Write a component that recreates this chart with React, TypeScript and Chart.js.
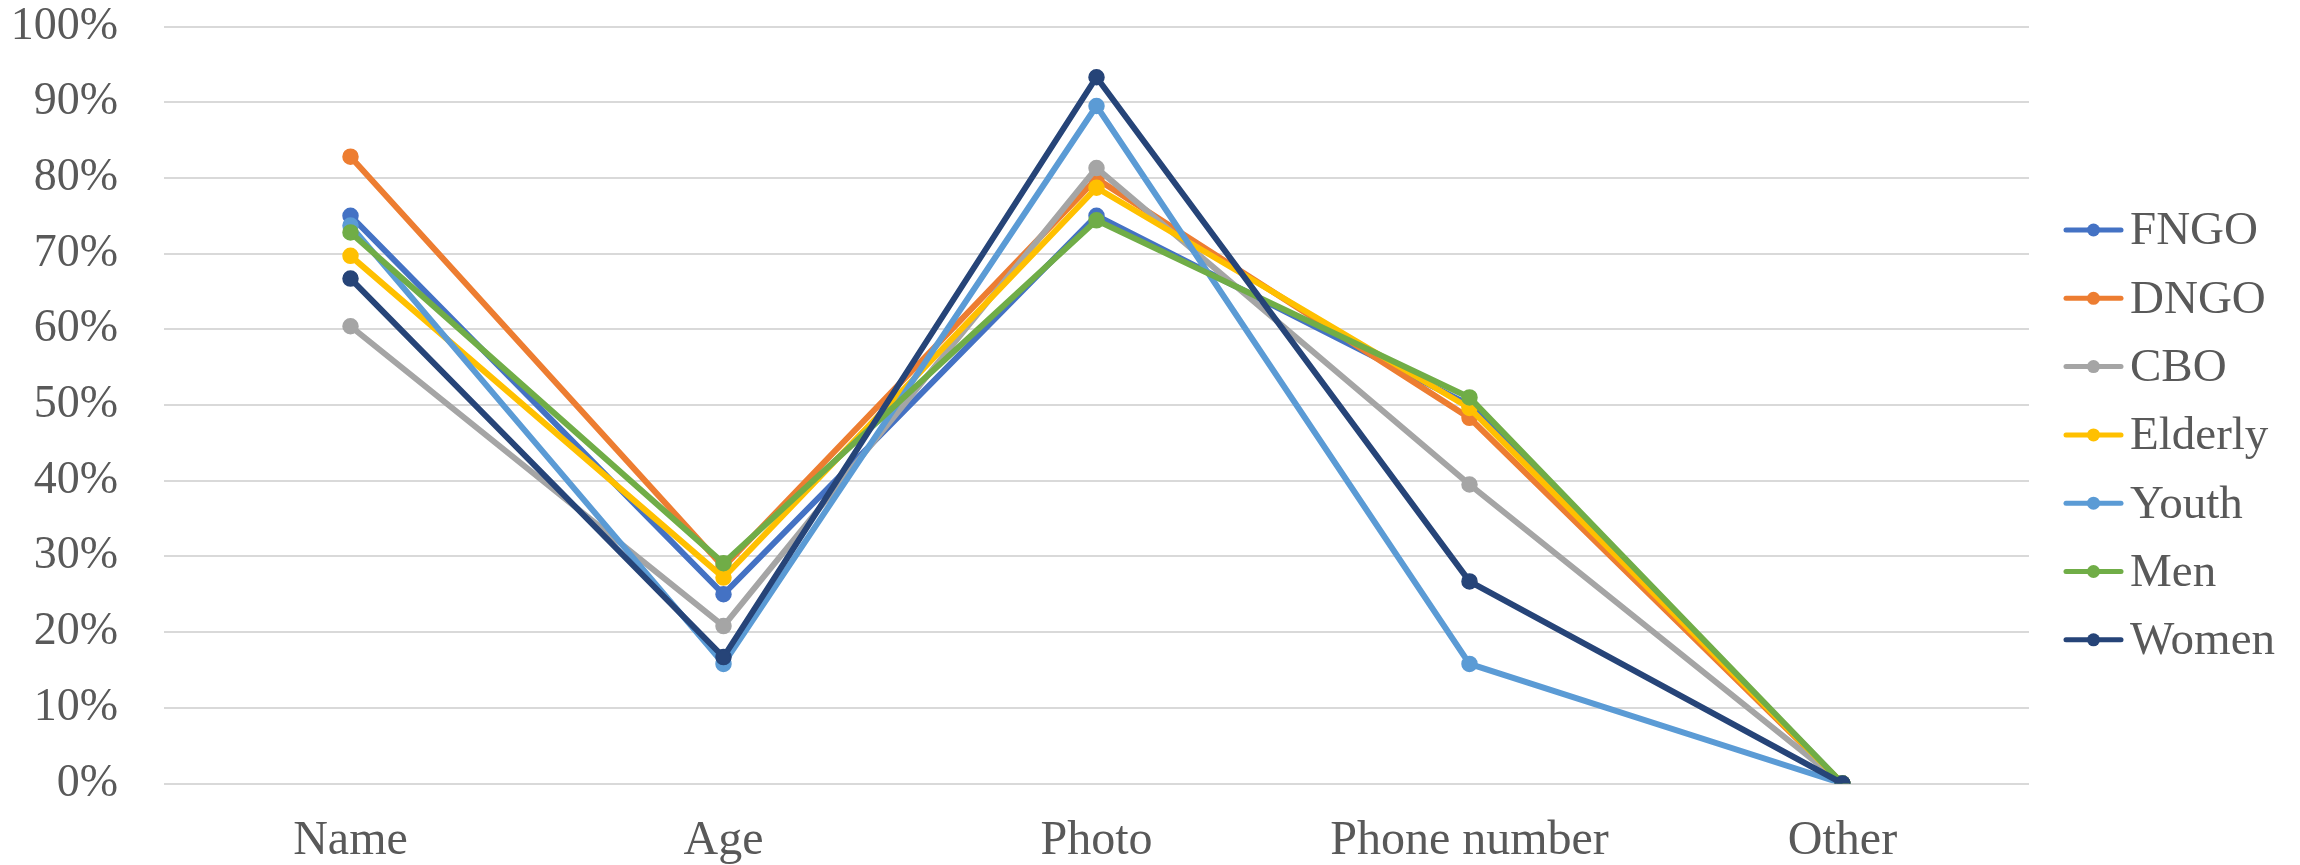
import React, { useEffect, useRef } from "react";
import { Chart, registerables } from "chart.js";

Chart.register(...registerables);

const categories = ["Name", "Age", "Photo", "Phone number", "Other"];
const seriesNames = ["FNGO", "DNGO", "CBO", "Elderly", "Youth", "Men", "Women"];
const seriesColors = ["#4472C4", "#ED7D31", "#A5A5A5", "#FFC000", "#5B9BD5", "#70AD47", "#264478"];

// Share of respondents per item, in percent
const fngo = [75.0, 25.0, 75.0, 50.0, 0];
const dngo = [82.8, 28.6, 79.9, 48.3, 0];
const cbo = [60.4, 20.8, 81.3, 39.5, 0];
const elderly = [69.7, 27.2, 78.7, 49.6, 0];
const youth = [73.7, 15.8, 89.5, 15.8, 0];
const men = [72.8, 29.1, 74.4, 51.0, 0];
const women = [66.7, 16.7, 93.3, 26.7, 0];

const seriesValues = [fngo, dngo, cbo, elderly, youth, men, women];
const yTicks = [0, 10, 20, 30, 40, 50, 60, 70, 80, 90, 100];

const FONT = "'Liberation Serif', 'Times New Roman', serif";
const TEXT = "#595959";

// Legend on the right: short line with a dot, then the series name
const sideLegend = {
  id: "sideLegend",
  afterDraw(chart: any) {
    const ctx = chart.ctx;
    const x0 = 2066;
    const lineLen = 55;
    const top = 230;
    const step = 68.3;
    ctx.save();
    chart.data.datasets.forEach((ds: any, i: number) => {
      const y = top + i * step;
      ctx.strokeStyle = ds.borderColor;
      ctx.lineWidth = 5;
      ctx.lineCap = "round";
      ctx.beginPath();
      ctx.moveTo(x0, y);
      ctx.lineTo(x0 + lineLen, y);
      ctx.stroke();
      ctx.fillStyle = ds.borderColor;
      ctx.beginPath();
      ctx.arc(x0 + lineLen / 2, y, 6.5, 0, Math.PI * 2);
      ctx.fill();
      ctx.fillStyle = TEXT;
      ctx.font = `47px ${FONT}`;
      ctx.textAlign = "left";
      ctx.textBaseline = "middle";
      ctx.fillText(ds.label, x0 + lineLen + 9, y + 2);
    });
    ctx.restore();
  },
};

export default function App() {
  const ref = useRef<HTMLCanvasElement | null>(null);

  useEffect(() => {
    if (!ref.current) return;
    const n = seriesNames.length;
    const chart = new Chart(ref.current, {
      type: "line",
      data: {
        labels: categories,
        datasets: seriesNames.map((name, i) => ({
          label: name,
          data: seriesValues[i],
          borderColor: seriesColors[i],
          backgroundColor: seriesColors[i],
          pointBackgroundColor: seriesColors[i],
          pointBorderColor: seriesColors[i],
          borderWidth: 6,
          pointRadius: 7.5,
          pointBorderWidth: 1.5,
          tension: 0,
          fill: false,
          order: n - i,
        })),
      },
      options: {
        animation: false,
        responsive: false,
        maintainAspectRatio: false,
        layout: { padding: { top: 26.5, right: 271, left: 0, bottom: 0 } },
        plugins: {
          legend: { display: false },
          tooltip: { enabled: false },
        },
        scales: {
          x: {
            offset: true,
            grid: { display: false, drawTicks: false },
            border: { display: false },
            ticks: {
              color: TEXT,
              font: { family: FONT, size: 48 },
              padding: 29,
              maxRotation: 0,
              autoSkip: false,
            },
            afterFit: (s: any) => {
              s.height = 81.5;
              s.paddingLeft = 0;
              s.paddingRight = 0;
            },
          },
          y: {
            min: 0,
            max: 100,
            afterBuildTicks: (s: any) => {
              s.ticks = yTicks.map((v) => ({ value: v }));
            },
            grid: { color: "#D9D9D9", lineWidth: 2, drawTicks: false },
            border: { display: false },
            ticks: {
              color: TEXT,
              font: { family: FONT, size: 46 },
              padding: 46,
              callback: (v: any) => `${v}%`,
            },
            afterFit: (s: any) => {
              s.width = 164;
              s.paddingTop = 0;
              s.paddingBottom = 0;
            },
          },
        },
      },
      plugins: [sideLegend],
    });
    return () => chart.destroy();
  }, []);

  return (
    <div style={{ position: "absolute", left: 0, top: 0, width: 2300, height: 865, background: "#fff" }}>
      <canvas ref={ref} width={2300} height={865} style={{ width: 2300, height: 865 }} />
    </div>
  );
}
